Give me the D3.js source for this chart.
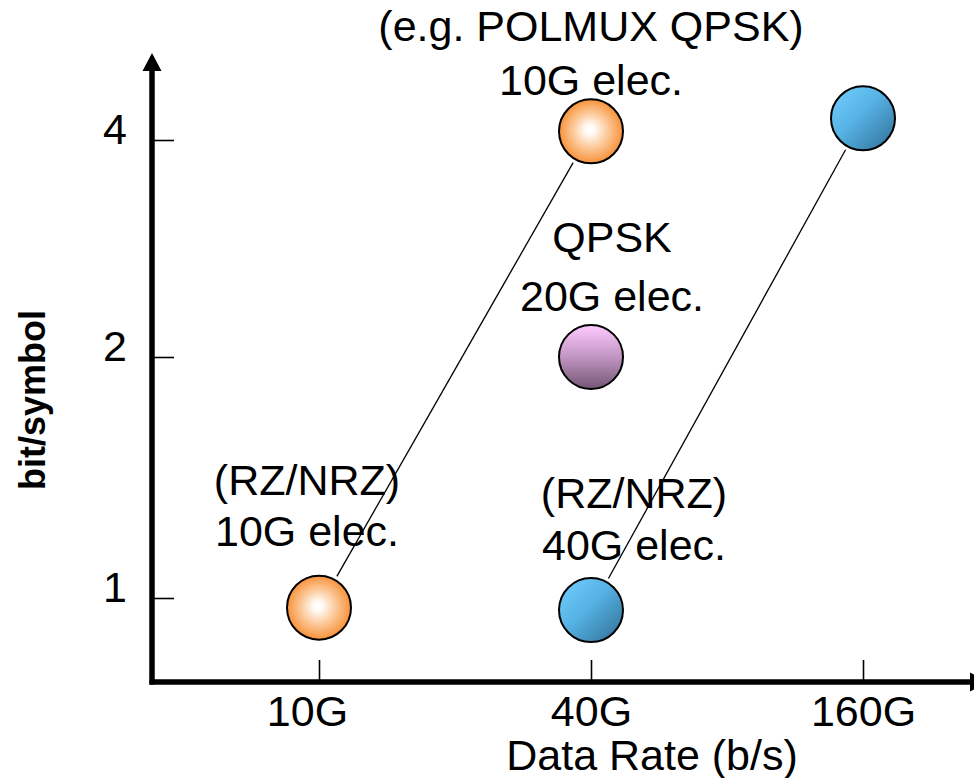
<!DOCTYPE html>
<html>
<head>
<meta charset="utf-8">
<script src="https://cdn.jsdelivr.net/npm/d3@7/dist/d3.min.js"></script>
<style>
  html, body { margin: 0; padding: 0; background: #ffffff; }
  svg { display: block; }
  text { font-family: "Liberation Sans", Arial, Helvetica, sans-serif; fill: #000; }
</style>
</head>
<body>
<svg id="chart" width="974" height="778"></svg>
<script>
// Data rates on the horizontal axis and bit/symbol ticks on the vertical axis
const rateCategories = ["10G", "40G", "160G"];
const bitTicks = [1, 2, 4];

// Modulation formats: data rate, bits per symbol, electrical bandwidth
const pointRate = ["10G", "40G", "40G", "40G", "160G"];
const pointBits = [0.96, 0.95, 2, 4.08, 4.2];
const pointElec = ["10G", "40G", "20G", "10G", "40G"];

// Label lines above each format
const pointLabels = [
  ["(RZ/NRZ)", "10G elec."],
  ["(RZ/NRZ)", "40G elec."],
  ["QPSK", "20G elec."],
  ["(e.g. POLMUX QPSK)", "10G elec."],
  []
];

// Same electrical bandwidth scaled up in bits/symbol
const upgradeLinks = [[0, 3], [1, 4]];

const svg = d3.select("#chart");
const axisX = 152, axisY = 682;
const R = 32;
const FONT = 43;

const x = d3.scalePoint().domain(rateCategories).range([319, 863]).padding(0);
const y = d3.scaleLinear().domain([1, 2, 4]).range([598, 357, 140]);

// Gradients for the bubbles
const defs = svg.append("defs");
const orange = defs.append("radialGradient").attr("id", "g10")
  .attr("cx", "50%").attr("cy", "50%").attr("r", "50%").attr("fx", "48%").attr("fy", "47%");
orange.append("stop").attr("offset", "0%").attr("stop-color", "#ffffff");
orange.append("stop").attr("offset", "15%").attr("stop-color", "#fffaf5");
orange.append("stop").attr("offset", "55%").attr("stop-color", "#fcc898");
orange.append("stop").attr("offset", "100%").attr("stop-color", "#f7923a");

const blue = defs.append("linearGradient").attr("id", "g40")
  .attr("x1", "0%").attr("y1", "0%").attr("x2", "100%").attr("y2", "100%");
blue.append("stop").attr("offset", "0%").attr("stop-color", "#72d0ff");
blue.append("stop").attr("offset", "45%").attr("stop-color", "#56b2e4");
blue.append("stop").attr("offset", "100%").attr("stop-color", "#2f6d93");

const pink = defs.append("linearGradient").attr("id", "g20")
  .attr("x1", "0%").attr("y1", "0%").attr("x2", "0%").attr("y2", "100%");
pink.append("stop").attr("offset", "0%").attr("stop-color", "#ffcaff");
pink.append("stop").attr("offset", "50%").attr("stop-color", "#c195c2");
pink.append("stop").attr("offset", "100%").attr("stop-color", "#735573");

const fillFor = d3.scaleOrdinal().domain(["10G", "20G", "40G"])
  .range(["url(#g10)", "url(#g20)", "url(#g40)"]);

// Y axis (ticks pointing inward, labels outside)
const yAxis = svg.append("g").attr("transform", `translate(${axisX},0)`)
  .call(d3.axisLeft(y).tickValues(bitTicks).tickFormat(d3.format("d"))
    .tickSizeInner(-22).tickSizeOuter(0).tickPadding(25));
yAxis.select(".domain").remove();
yAxis.selectAll(".tick line").attr("stroke", "#000").attr("stroke-width", 1.6);
yAxis.selectAll(".tick text").attr("font-size", FONT).attr("dy", "0.08em")
  .style("font-family", "'Liberation Sans', Arial, sans-serif");

// X axis
const xAxis = svg.append("g").attr("transform", `translate(0,${axisY})`)
  .call(d3.axisBottom(x).tickSizeInner(-22).tickSizeOuter(0).tickPadding(13));
xAxis.select(".domain").remove();
xAxis.selectAll(".tick line").attr("stroke", "#000").attr("stroke-width", 1.6);
xAxis.selectAll(".tick text").attr("font-size", FONT)
  .attr("dx", d => d === "10G" ? -12 : 0)
  .style("font-family", "'Liberation Sans', Arial, sans-serif");

// Heavy axis lines with arrowheads
svg.append("line").attr("x1", axisX).attr("y1", 70).attr("x2", axisX).attr("y2", axisY + 2.5)
  .attr("stroke", "#000").attr("stroke-width", 5.5);
svg.append("path").attr("d", `M${axisX},53 L${axisX - 9.5},71 L${axisX + 9.5},71 Z`).attr("fill", "#000");
svg.append("line").attr("x1", axisX - 2.5).attr("y1", axisY).attr("x2", 972).attr("y2", axisY)
  .attr("stroke", "#000").attr("stroke-width", 5.5);
svg.append("path").attr("d", `M988,${axisY} L970,${axisY - 9.5} L970,${axisY + 9.5} Z`).attr("fill", "#000");

// Axis titles
svg.append("text").attr("x", x("40G") + 61).attr("y", 770)
  .attr("text-anchor", "middle").attr("font-size", FONT).text("Data Rate (b/s)");
svg.append("text").attr("transform", "translate(45,400) rotate(-90)")
  .attr("text-anchor", "middle").attr("font-size", 36).attr("font-weight", "bold").text("bit/symbol");

const pts = pointRate.map((r, i) => ({ cx: x(r), cy: y(pointBits[i]), elec: pointElec[i], labels: pointLabels[i] }));

// Connecting lines, trimmed at the bubble edges
upgradeLinks.forEach(([a, b]) => {
  const p = pts[a], q = pts[b];
  const dx = q.cx - p.cx, dy = q.cy - p.cy, len = Math.hypot(dx, dy);
  const ux = dx / len, uy = dy / len, g = R + 4;
  svg.append("line")
    .attr("x1", p.cx + ux * g).attr("y1", p.cy + uy * g)
    .attr("x2", q.cx - ux * g).attr("y2", q.cy - uy * g)
    .attr("stroke", "#000").attr("stroke-width", 1.3);
});

// Bubbles
svg.append("g").selectAll("circle").data(pts).join("circle")
  .attr("cx", d => d.cx).attr("cy", d => d.cy).attr("r", R)
  .attr("fill", d => fillFor(d.elec)).attr("stroke", "#000").attr("stroke-width", 2);

// Labels above bubbles (offsets of label block relative to bubble)
const labelOffset = [
  { dx: -12, dy: -113, gap: 51 },
  { dx: 43, dy: -102, gap: 52 },
  { dx: 21, dy: -105, gap: 59 },
  { dx: 0, dy: -90, gap: 54 },
  { dx: 0, dy: 0, gap: 0 }
];
pts.forEach((p, i) => {
  p.labels.forEach((t, k) => {
    svg.append("text")
      .attr("x", p.cx + labelOffset[i].dx)
      .attr("y", p.cy + labelOffset[i].dy + k * labelOffset[i].gap)
      .attr("text-anchor", "middle").attr("font-size", FONT).text(t);
  });
});
</script>
</body>
</html>
